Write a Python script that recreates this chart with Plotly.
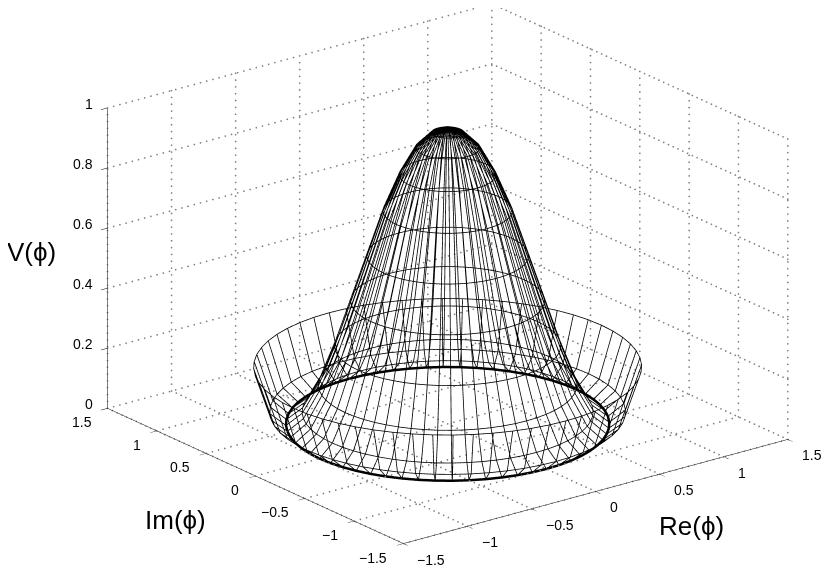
import math
import plotly.graph_objects as go

# Ring radii |phi| and the potential at each ring
ring_radius = [0.0, 0.1, 0.2, 0.3, 0.4, 0.5, 0.6, 0.7, 0.8, 0.9, 1.0, 1.1, 1.2]
ring_height = [0.99, 0.97, 0.92, 0.83, 0.71, 0.56, 0.41, 0.26, 0.13, 0.04, 0.0, 0.04, 0.19]
meridian_deg = list(range(0, 366, 6))
valley_radius = 1.0
valley_height = 0.0

x_ticks = [-1.5, -1, -0.5, 0, 0.5, 1, 1.5]
y_ticks = [-1.5, -1, -0.5, 0, 0.5, 1, 1.5]
z_ticks = [0, 0.2, 0.4, 0.6, 0.8, 1]
x_text = ["\u22121.5", "\u22121", "\u22120.5", "0", "0.5", "1", "1.5"]
y_text = ["\u22121.5", "\u22121", "\u22120.5", "0", "0.5", "1", "1.5"]
z_text = ["0", "0.2", "0.4", "0.6", "0.8", "1"]

FONT = "Liberation Sans"
xmin, xmax = x_ticks[0], x_ticks[-1]
ymin, ymax = y_ticks[0], y_ticks[-1]
zmin, zmax = z_ticks[0], z_ticks[-1]

mx, my, mz = [], [], []
for a in meridian_deg[:-1]:
    c, s = math.cos(math.radians(a)), math.sin(math.radians(a))
    for r, v in zip(ring_radius, ring_height):
        mx.append(r * c); my.append(r * s); mz.append(v)
    mx.append(None); my.append(None); mz.append(None)
for r, v in zip(ring_radius[1:], ring_height[1:]):
    for a in meridian_deg:
        mx.append(r * math.cos(math.radians(a)))
        my.append(r * math.sin(math.radians(a)))
        mz.append(v)
    mx.append(None); my.append(None); mz.append(None)

vx = [valley_radius * math.cos(math.radians(a)) for a in meridian_deg]
vy = [valley_radius * math.sin(math.radians(a)) for a in meridian_deg]
vz = [valley_height for _ in meridian_deg]

# dotted grid on floor and back walls, drawn as fine dots
gx, gy, gz = [], [], []
XY_STEPS, Z_STEPS = 62, 44
def seg(p, q, n):
    for i in range(n + 1):
        f = i / n
        gx.append(p[0] + (q[0] - p[0]) * f)
        gy.append(p[1] + (q[1] - p[1]) * f)
        gz.append(p[2] + (q[2] - p[2]) * f)
for t in x_ticks:
    seg((t, ymin, zmin), (t, ymax, zmin), XY_STEPS)
    seg((t, ymax, zmin), (t, ymax, zmax), Z_STEPS)
for t in y_ticks:
    seg((xmin, t, zmin), (xmax, t, zmin), XY_STEPS)
    seg((xmax, t, zmin), (xmax, t, zmax), Z_STEPS)
for t in z_ticks:
    seg((xmin, ymax, t), (xmax, ymax, t), XY_STEPS)
    seg((xmax, ymin, t), (xmax, ymax, t), XY_STEPS)

fig = go.Figure()
fig.add_trace(go.Scatter3d(x=gx, y=gy, z=gz, mode="markers",
                           marker=dict(color="#808080", size=1, line=dict(width=0)),
                           hoverinfo="skip", showlegend=False))
fig.add_trace(go.Scatter3d(x=mx, y=my, z=mz, mode="lines",
                           line=dict(color="black", width=1.6), hoverinfo="skip", showlegend=False))
fig.add_trace(go.Scatter3d(x=vx, y=vy, z=vz, mode="lines",
                           line=dict(color="black", width=5), hoverinfo="skip", showlegend=False))

def axis(vals, rng):
    return dict(range=rng, tickvals=vals, showgrid=False, zeroline=False,
                showbackground=False, showline=True, linecolor="black", linewidth=1,
                ticks="outside", ticklen=8, tickwidth=1, tickcolor="black",
                showticklabels=False, showspikes=False, title=dict(text=""))

tick_font = dict(family=FONT, size=14, color="black")
scene_notes = []
for t, s in zip(x_ticks, x_text):
    scene_notes.append(dict(x=t, y=ymin, z=zmin, text=s, showarrow=False, font=tick_font,
                            xanchor="left", yanchor="middle", xshift=12, yshift=-16))
for t, s in zip(y_ticks, y_text):
    scene_notes.append(dict(x=xmin, y=t, z=zmin, text=s, showarrow=False, font=tick_font,
                            xanchor="right", yanchor="middle", xshift=-14, yshift=-14))
for t, s in zip(z_ticks, z_text):
    scene_notes.append(dict(x=xmin, y=ymax, z=t, text=s, showarrow=False, font=tick_font,
                            xanchor="right", yanchor="middle", xshift=-13, yshift=4))

az, el = math.radians(37.6), math.radians(20.6)
k = 2.0
cx, cy, cz = -0.0686, 0.0529, -0.0707
fig.update_layout(
    width=830, height=569, margin=dict(l=0, r=0, t=0, b=0),
    paper_bgcolor="white", showlegend=False,
    scene=dict(
        domain=dict(x=[0, 1], y=[0, 1]),
        xaxis=axis(x_ticks, [xmin, xmax]),
        yaxis=axis(y_ticks, [ymin, ymax]),
        zaxis=axis(z_ticks, [zmin, zmax]),
        aspectmode="manual", aspectratio=dict(x=1.705, y=1.705, z=1.128),
        annotations=scene_notes,
        camera=dict(projection=dict(type="orthographic"),
                    up=dict(x=0, y=0, z=1), center=dict(x=cx, y=cy, z=cz),
                    eye=dict(x=cx - k * math.sin(az) * math.cos(el),
                             y=cy - k * math.cos(az) * math.cos(el),
                             z=cz + k * math.sin(el))),
    ),
    annotations=[
        dict(text="Re(\u03d5)", x=683, y=518, xref="paper", yref="paper"),
        dict(text="Im(\u03d5)", x=167, y=512, xref="paper", yref="paper"),
        dict(text="V(\u03d5)", x=23, y=244, xref="paper", yref="paper"),
    ],
)
for an in fig.layout.annotations:
    an.x = an.x / 830
    an.y = 1 - an.y / 569
    an.showarrow = False
    an.font = dict(family=FONT, size=26, color="black")
    an.xanchor = "center"
    an.yanchor = "middle"

fig.write_html("out.html")
